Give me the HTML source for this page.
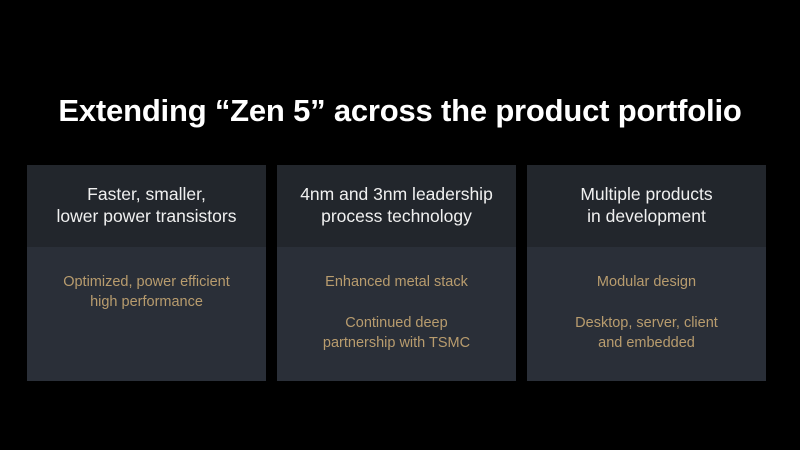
<!DOCTYPE html>
<html><head><style>
body{margin:0;width:800px;height:450px;background:#000;position:relative;overflow:hidden;font-family:"Liberation Sans",sans-serif}
h1{position:absolute;top:93px;left:0;width:800px;text-align:center;margin:0;color:#fff;font-size:31px;font-weight:bold;letter-spacing:-0.2px}
.p{position:absolute;top:165px;width:239px;height:216px;background:#2a2f38}
.h{height:82px;background:#22262c;color:#f0f0f0;font-size:17.5px;line-height:22px;text-align:center;padding-top:18px;box-sizing:border-box}
.b{color:#b89c6e;font-size:14.5px;line-height:20px;text-align:center;padding-top:25px}
.b p{margin:0 0 21px}
</style></head><body>
<h1>Extending “Zen 5” across the product portfolio</h1>
<div class="p" style="left:27px"><div class="h">Faster, smaller,<br>lower power transistors</div><div class="b"><p>Optimized, power efficient<br>high performance</p></div></div>
<div class="p" style="left:277px"><div class="h">4nm and 3nm leadership<br>process technology</div><div class="b"><p>Enhanced metal stack</p><p>Continued deep<br>partnership with TSMC</p></div></div>
<div class="p" style="left:527px"><div class="h">Multiple products<br>in development</div><div class="b"><p>Modular design</p><p>Desktop, server, client<br>and embedded</p></div></div>
</body></html>
